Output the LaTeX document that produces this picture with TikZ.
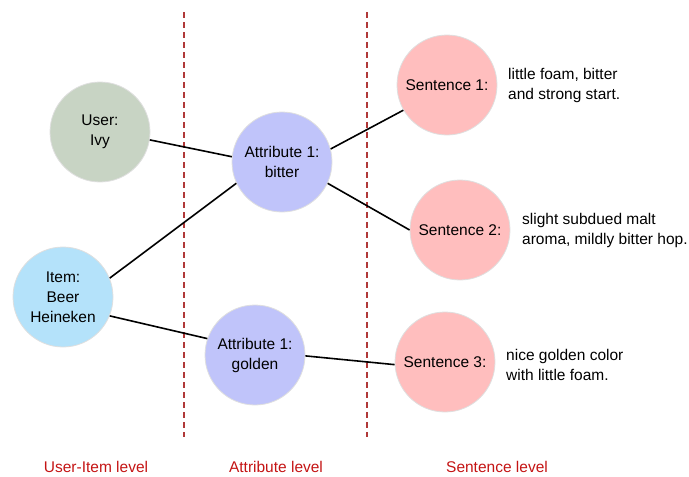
\documentclass[tikz,border=0pt]{standalone}
\usepackage{fontspec}
\setmainfont{Liberation Sans}
\begin{document}
\begin{tikzpicture}[x=1pt,y=-1pt,
  every node/.style={font=\fontsize{15.5}{20}\selectfont},
  bubble/.style={circle,draw=gray!25,line width=0.8pt,minimum size=100pt,inner sep=0pt,align=center},
  usernode/.style={bubble,fill=userfill},
  itemnode/.style={bubble,fill=itemfill},
  attrnode/.style={bubble,fill=attrfill},
  sentnode/.style={bubble,fill=sentfill},
  note/.style={anchor=west,align=left,inner sep=0pt},
  link/.style={draw=black,line width=1.6pt},
  divider/.style={draw=divred,line width=1.2pt,dash pattern=on 6pt off 4pt},
  levellabel/.style={text=levelred}
]
\definecolor{userfill}{RGB}{200,212,196}
\definecolor{itemfill}{RGB}{180,226,250}
\definecolor{attrfill}{RGB}{192,196,250}
\definecolor{sentfill}{RGB}{255,190,190}
\definecolor{divred}{RGB}{176,56,56}
\definecolor{levelred}{RGB}{196,20,20}
\useasboundingbox (0,0) rectangle (689,477);

% level dividers
\coordinate (d1top) at (184,12);
\coordinate (d1bot) at (184,437);
\coordinate (d2top) at (367,12);
\coordinate (d2bot) at (367,437);
\draw[divider] (d1top) -- (d1bot);
\draw[divider] (d2top) -- (d2bot);

% user-item level
\node[usernode] (user) at (100,132) {User:\\Ivy};
\node[itemnode] (item) at (63,297) {Item:\\Beer\\Heineken};

% attribute level
\node[attrnode] (bitter) at (282,162) {Attribute 1:\\bitter};
\node[attrnode] (golden) at (255,355) {Attribute 1:\\golden};

% sentence level
\node[sentnode] (s1) at (447,85) {Sentence 1:};
\node[sentnode] (s2) at (460,230) {Sentence 2:};
\node[sentnode] (s3) at (445,362) {Sentence 3:};

\node[note] (t1) at (508,85) {little foam, bitter\\and strong start.};
\node[note] (t2) at (522,230) {slight subdued malt\\aroma, mildly bitter hop.};
\node[note] (t3) at (506,365) {nice golden color\\with little foam.};

% connections, attached at fixed border angles
\draw[link] (user.-9) -- (bitter.174);
\draw[link] (item.22) -- (bitter.205);
\draw[link] (item.-22) -- (golden.161);
\draw[link] (bitter.15) -- (s1.210);
\draw[link] (bitter.-25) -- (s2.180);
\draw[link] (golden.-1) -- (s3.183);

% level captions
\node[levellabel] (l1) at (96,467) {User-Item level};
\node[levellabel] (l2) at (276,467) {Attribute level};
\node[levellabel] (l3) at (497,467) {Sentence level};
\end{tikzpicture}
\end{document}
